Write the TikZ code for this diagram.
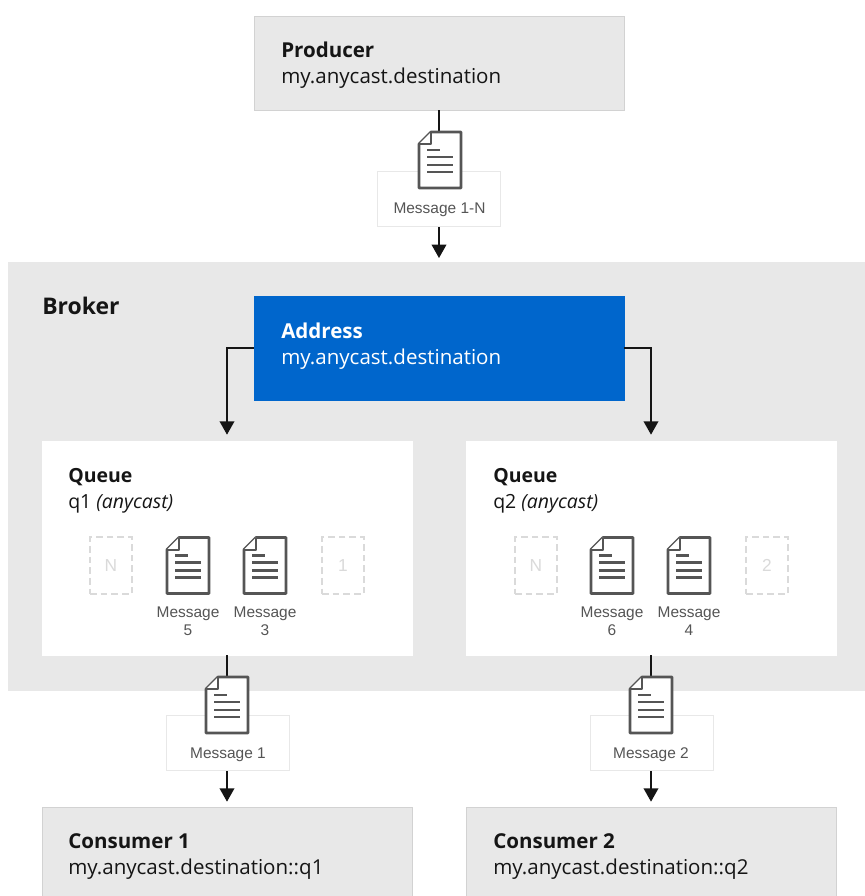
\documentclass[tikz,border=0pt]{standalone}
\usepackage{fontspec}
\setmainfont{Open Sans}
\newfontfamily\msgfont{Liberation Sans}
\usetikzlibrary{arrows.meta}

\definecolor{boxgray}{HTML}{E8E8E8}
\definecolor{edgegray}{HTML}{D2D2D2}
\definecolor{addrblue}{HTML}{0066CC}
\definecolor{inkdark}{HTML}{151515}
\definecolor{docgray}{HTML}{555555}
\definecolor{ghostgray}{HTML}{DADADA}

\tikzset{
	box/.style = {rectangle, draw = edgegray, line width = 0.5pt, fill = boxgray, inner sep = 0pt},
	boxtext/.style = {anchor = west, align = left, inner sep = 0pt, text = inkdark, font = \fontsize{15.4}{19.5}\selectfont},
	msglabel/.style = {rectangle, draw = boxgray, line width = 0.5pt, fill = white, minimum width = 92.5pt, minimum height = 41pt, inner sep = 0pt},
	msgtext/.style = {align = center, inner sep = 0pt, text = docgray, font = \msgfont\fontsize{11.6}{13.5}\selectfont},
	flow/.style = {line width = 1.1pt, draw = inkdark, -{Triangle[width = 11pt, length = 10pt]}},
	doc/.pic = {
		\draw[docgray, line width = 2pt, fill = white, line join = round] (-21, -16) -- (-9, -28) -- (21, -28) -- (21, 28) -- (-21, 28) -- cycle;
		\draw[docgray, line width = 1.5pt, fill = white, line join = round] (-21, -16) -- (-9, -16) -- (-9, -28);
		\draw[docgray, line width = 1.7pt] (-13, -10) -- (0, -10);
		\foreach \l in {-3, 5, 12}
		\draw[docgray, line width = 1.7pt] (-13, \l) -- (13, \l);
	},
	ghost/.style = {rectangle, draw = ghostgray, line width = 1.5pt, dash pattern = on 5pt off 3pt, minimum width = 31.5pt, minimum height = 42.5pt, inner sep = 0pt, text = ghostgray, font = \msgfont\fontsize{13}{15}\selectfont}
}

\begin{document}
\begin{tikzpicture}[x = 0.75pt, y = -0.75pt]
	 \useasboundingbox (0, 0) rectangle (864, 896);

	 \node[box, draw = boxgray, minimum width = 642pt, minimum height = 321pt] (broker) at (436, 476) {};
	 \node[boxtext, font = \bfseries\fontsize{17.2}{20}\selectfont] (brokertitle) at (42, 306) {Broker};

	 \node[box, minimum width = 277.5pt, minimum height = 70.5pt] (producer) at (439, 63) {};
	 \node[boxtext] (producertext) at (281, 65) {\textbf{Producer}\\my.anycast.destination};

	 \node[box, draw = addrblue, fill = addrblue, minimum width = 277.5pt, minimum height = 78pt] (address) at (439, 348) {};
	 \node[boxtext, text = white] (addresstext) at (281, 346) {\textbf{Address}\\my.anycast.destination};

	 \node[box, draw = white, fill = white, minimum width = 277.5pt, minimum height = 160.5pt] (queue1) at (227, 548) {};
	 \node[box, draw = white, fill = white, minimum width = 277.5pt, minimum height = 160.5pt] (queue2) at (651, 548) {};
	 \node[boxtext, font = \fontsize{14.6}{19.5}\selectfont] (queue1text) at (68, 491) {\textbf{Queue}\\q1 \textit{(anycast)}};
	 \node[boxtext, font = \fontsize{14.6}{19.5}\selectfont] (queue2text) at (493, 491) {\textbf{Queue}\\q2 \textit{(anycast)}};

	 \node[box, minimum width = 277.5pt, minimum height = 66.75pt] (consumer1) at (227, 851.5) {};
	 \node[box, minimum width = 277.5pt, minimum height = 66.75pt] (consumer2) at (651, 851.5) {};
	 \node[boxtext] (consumer1text) at (68, 857) {\textbf{Consumer 1}\\my.anycast.destination::q1};
	 \node[boxtext] (consumer2text) at (493, 857) {\textbf{Consumer 2}\\my.anycast.destination::q2};

	 \coordinate (brokerin) at (439, 258);

	 \draw[flow] (producer) -- (brokerin);
	 \draw[flow, shorten > = 4.5pt] (address.west) -| (queue1.north);
	 \draw[flow, shorten > = 4.5pt] (address.east) -| (queue2.north);
	 \draw[flow, shorten > = 3.75pt] (queue1) -- (consumer1);
	 \draw[flow, shorten > = 3.75pt] (queue2) -- (consumer2);

	 \node[msglabel] (label1n) at (439, 199) {};
	 \node[msgtext] (label1ntext) at (439.5, 210) {Message 1-N};
	 \pic at (440, 160) {doc};

	 \node[msglabel] (labelq1) at (227.5, 742.5) {};
	 \node[msgtext] (labelq1text) at (228, 755) {Message 1};
	 \pic at (227, 705) {doc};

	 \node[msglabel] (labelq2) at (651.5, 742.5) {};
	 \node[msgtext] (labelq2text) at (651, 755) {Message 2};
	 \pic at (651, 705) {doc};

	 \foreach \x/\n in {188/5, 265/3, 612/6, 689/4} {
	 \pic at (\x, 565.5) {doc};
	 \node[msgtext] (msg\n) at (\x, 621) {Message\\\n};
	 }

	 \node[ghost] (ghostn1) at (111, 565.5) {N};
	 \node[ghost] (ghost1) at (343, 565.5) {1};
	 \node[ghost] (ghostn2) at (536, 565.5) {N};
	 \node[ghost] (ghost2) at (767, 565.5) {2};
\end{tikzpicture}
\end{document}
